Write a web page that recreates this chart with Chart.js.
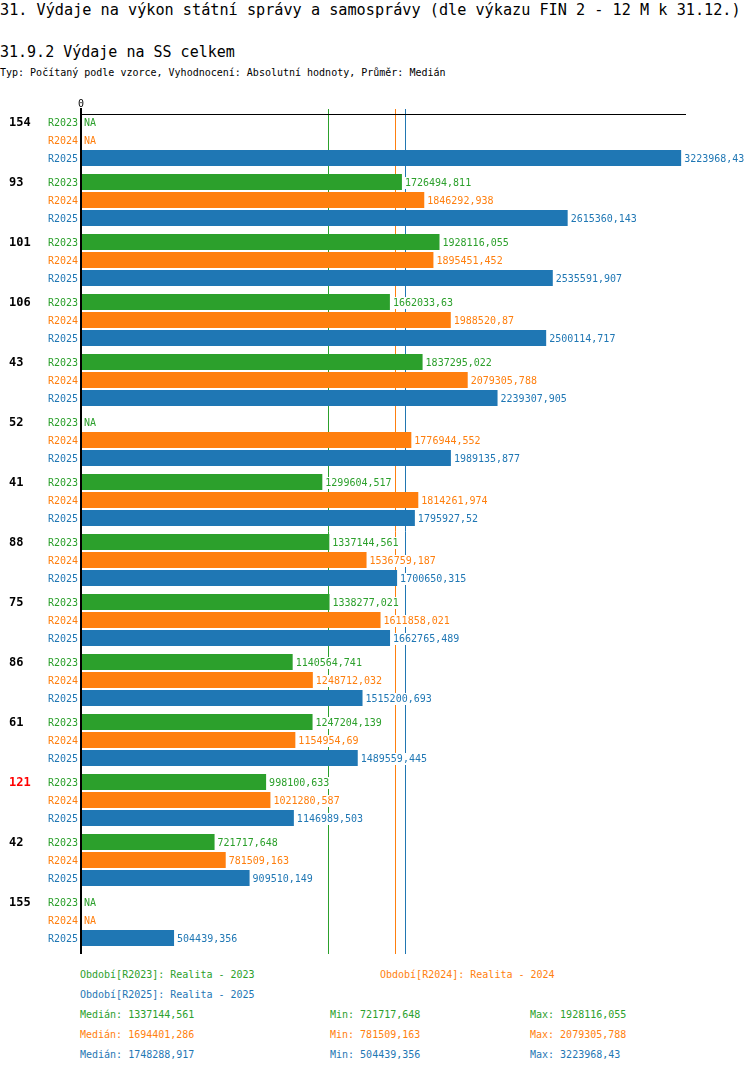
<!DOCTYPE html>
<html lang="cs">
<head>
<meta charset="utf-8">
<title>31.9.2 Výdaje na SS celkem</title>
<script src="https://cdn.jsdelivr.net/npm/chart.js@4.4.1/dist/chart.umd.min.js"></script>
<style>
    body { margin: 0; background: #fff; font-family: "DejaVu Sans Mono", monospace; color: #000; }
    #page { position: relative; width: 750px; height: 1074px; overflow: hidden; }
    .txt { position: absolute; white-space: pre; }
    .h1 { left: 0; top: 1px; font-size: 15.2px; line-height: 18px; }
    .h2 { left: 0; top: 43px; font-size: 15px; line-height: 18px; }
    .sub { left: 0; top: 67px; font-size: 10px; line-height: 12px; }
    .leg { font-size: 10px; line-height: 14px; }
    #chartBox { position: absolute; left: 0; top: 0; width: 750px; height: 960px; }
</style>
</head>
<body>
<div id="page">
    <div class="txt h1">31. Výdaje na výkon státní správy a samosprávy (dle výkazu FIN 2 - 12 M k 31.12.)</div>
    <div class="txt h2">31.9.2 Výdaje na SS celkem</div>
    <div class="txt sub">Typ: Počítaný podle vzorce, Vyhodnocení: Absolutní hodnoty, Průměr: Medián</div>
    <div id="chartBox"><canvas id="chart"></canvas></div>
    <div id="legend"></div>
</div>
<script>
// Data
const groups = ['154', '93', '101', '106', '43', '52', '41', '88', '75', '86', '61', '121', '42', '155'];
const highlighted = ['121'];
const periods = ['R2023', 'R2024', 'R2025'];
const periodNames = ['Realita - 2023', 'Realita - 2024', 'Realita - 2025'];

const r2023 = [null, 1726494.811, 1928116.055, 1662033.63, 1837295.022, null, 1299604.517,
    1337144.561, 1338277.021, 1140564.741, 1247204.139, 998100.633, 721717.648, null];
const r2024 = [null, 1846292.938, 1895451.452, 1988520.87, 2079305.788, 1776944.552, 1814261.974,
    1536759.187, 1611858.021, 1248712.032, 1154954.69, 1021280.587, 781509.163, null];
const r2025 = [3223968.43, 2615360.143, 2535591.907, 2500114.717, 2239307.905, 1989135.877, 1795927.52,
    1700650.315, 1662765.489, 1515200.693, 1489559.445, 1146989.503, 909510.149, 504439.356];

const medians = [1337144.561, 1694401.286, 1748288.917];
const mins = [721717.648, 781509.163, 504439.356];
const maxs = [1928116.055, 2079305.788, 3223968.43];

const xMax = 3250000;
const colors = ['#2ca02c', '#ff7f0e', '#1f77b4'];
const series = [r2023, r2024, r2025];

const fmt = v => String(v).replace('.', ',');
const MONO = '"DejaVu Sans Mono", monospace';

// Legenda a statistiky (HTML text)
function buildLegend() {
    const box = document.getElementById('legend');
    const items = [
        { x: 80, y: 975, c: 0, t: 'Období[' + periods[0] + ']: ' + periodNames[0] },
        { x: 380, y: 975, c: 1, t: 'Období[' + periods[1] + ']: ' + periodNames[1] },
        { x: 80, y: 995, c: 2, t: 'Období[' + periods[2] + ']: ' + periodNames[2] }
    ];
    periods.forEach((p, i) => {
        const y = 1015 + i * 20;
        items.push({ x: 80, y: y, c: i, t: 'Medián: ' + fmt(medians[i]) });
        items.push({ x: 330, y: y, c: i, t: 'Min: ' + fmt(mins[i]) });
        items.push({ x: 530, y: y, c: i, t: 'Max: ' + fmt(maxs[i]) });
    });
    items.forEach(it => {
        const d = document.createElement('div');
        d.className = 'txt leg';
        d.style.left = it.x + 'px';
        d.style.top = (it.y - 7) + 'px';
        d.style.color = colors[it.c];
        d.textContent = it.t;
        box.appendChild(d);
    });
}
buildLegend();

// Popisky, osy a mediány
const overlay = {
    id: 'overlay',
    beforeDatasetsDraw(chart) {
        const { ctx, chartArea: a, scales: { x } } = chart;
        ctx.save();
        ctx.lineWidth = 1;
        medians.forEach((m, i) => {
            const px = Math.round(x.getPixelForValue(m)) - 0.5;
            ctx.strokeStyle = colors[i];
            ctx.beginPath();
            ctx.moveTo(px, a.top - 1);
            ctx.lineTo(px, a.bottom + 4);
            ctx.stroke();
        });
        ctx.restore();
    },
    afterDatasetsDraw(chart) {
        const { ctx, chartArea: a } = chart;
        ctx.save();

        // osy
        ctx.strokeStyle = '#000';
        ctx.lineWidth = 1;
        ctx.beginPath();
        ctx.moveTo(a.left, a.top + 4.5);
        ctx.lineTo(a.right, a.top + 4.5);
        ctx.stroke();
        ctx.lineWidth = 2;
        ctx.beginPath();
        ctx.moveTo(a.left + 1, a.top - 2);
        ctx.lineTo(a.left + 1, a.bottom + 4);
        ctx.stroke();

        ctx.textBaseline = 'middle';
        ctx.font = '10px ' + MONO;
        ctx.fillStyle = '#000';
        ctx.textAlign = 'center';
        ctx.fillText('0', a.left + 1, a.top - 6);

        groups.forEach((g, i) => {
            const first = chart.getDatasetMeta(0).data[i];
            ctx.font = 'bold 12px ' + MONO;
            ctx.textAlign = 'left';
            ctx.fillStyle = highlighted.includes(g) ? '#ff0000' : '#000';
            ctx.fillText(g, 9, first.y + 1);

            series.forEach((data, d) => {
                const bar = chart.getDatasetMeta(d).data[i];
                const ty = bar.y + 1;
                ctx.font = '10px ' + MONO;
                ctx.fillStyle = colors[d];
                ctx.textAlign = 'right';
                ctx.fillText(periods[d], 78, ty);

                const v = data[i];
                const txt = v === null ? 'NA' : fmt(v);
                const tx = v === null ? a.left + 4 : bar.x + 3;
                const w = ctx.measureText(txt).width;
                ctx.fillStyle = '#fff';
                ctx.fillRect(tx - 1, ty - 6, w + 2, 12);
                ctx.fillStyle = colors[d];
                ctx.textAlign = 'left';
                ctx.fillText(txt, tx, ty);
            });
        });
        ctx.restore();
    }
};

new Chart(document.getElementById('chart'), {
    type: 'bar',
    data: {
        labels: groups,
        datasets: series.map((data, d) => ({
            label: periods[d],
            data: data,
            backgroundColor: colors[d],
            borderWidth: 0,
            categoryPercentage: 0.9,
            barPercentage: 16 / 18
        }))
    },
    options: {
        indexAxis: 'y',
        responsive: true,
        maintainAspectRatio: false,
        animation: false,
        layout: { padding: { left: 80, right: 64, top: 110, bottom: 10 } },
        scales: {
            x: { display: false, min: 0, max: xMax },
            y: { display: false }
        },
        plugins: {
            legend: { display: false },
            tooltip: { enabled: false }
        }
    },
    plugins: [overlay]
});
</script>
</body>
</html>
